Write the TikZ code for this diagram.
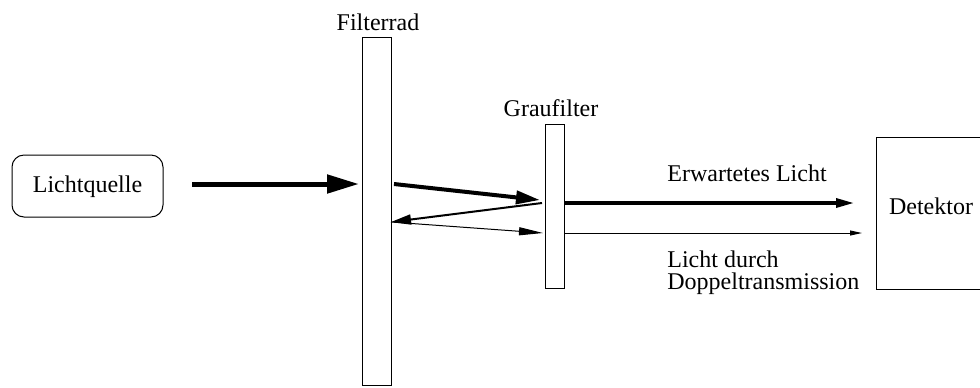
\documentclass[tikz,border=0pt]{standalone}
\usepackage{fontspec}
\setmainfont{Liberation Serif}
\usetikzlibrary{arrows.meta}
\begin{document}
\begin{tikzpicture}[x=0.5pt,y=-0.5pt,
  lbl/.style={inner sep=0pt,font=\fontsize{12}{14}\selectfont},
  box/.style={draw,line width=0.5pt,inner sep=0pt},
  thickarr/.style={line width=2.5pt,-{Triangle[length=16pt,width=9pt]}},
  medarr/.style={line width=2pt,-{Triangle[length=12pt,width=6.5pt]}},
  retarr/.style={line width=1pt,-{Triangle[length=10pt,width=5pt]}},
  thinarr/.style={line width=0.5pt,-{Triangle[length=12pt,width=4pt]}},
  hthick/.style={line width=1.6pt,-{Triangle[length=9pt,width=4.5pt]}},
  hthin/.style={line width=0.5pt,-{Triangle[length=6pt,width=2.5pt]}}]
\clip (0,0) rectangle (980,387);
\useasboundingbox (0,0) rectangle (980,387);
% boxes
\node[box,rounded corners=6pt,minimum width=75.5pt,minimum height=31pt] (quelle) at (87.5,186) {};
\node[lbl] (quelletxt) at (87.5,187) {Lichtquelle};
\node[box,minimum width=14.5pt,minimum height=174pt] (rad) at (376.5,211) {};
\node[lbl,anchor=south] (radtxt) at (378,31) {Filterrad};
\node[box,minimum width=9.5pt,minimum height=82pt] (grau) at (554.5,206) {};
\node[lbl,anchor=south] (grautxt) at (551,117) {Graufilter};
\node[box,minimum width=60pt,minimum height=76pt] (det) at (936,213) {};
\node[lbl] (dettxt) at (931,206) {Detektor};
% labels
\node[lbl,anchor=west] (erw) at (667,173) {Erwartetes Licht};
\node[lbl,anchor=west] (ld1) at (667,259) {Licht durch};
\node[lbl,anchor=west] (ld2) at (667,284) {Doppeltransmission};
% coordinates
\coordinate (a1) at (192,184);
\coordinate (a2) at (359,184);
\coordinate (b1) at (394,184);
\coordinate (b2) at (540,200);
\coordinate (c1) at (542,203);
\coordinate (c2) at (391,222);
\coordinate (d2) at (543,233);
\coordinate (e1) at (564,203);
\coordinate (e2) at (854,203);
\coordinate (f1) at (564,233);
\coordinate (f2) at (862,233);
% arrows
\draw[thickarr] (a1) -- (a2);
\draw[medarr] (b1) -- (b2);
\draw[retarr] (c1) -- (c2);
\draw[thinarr] (c2) -- (d2);
\draw[hthick] (e1) -- (e2);
\draw[hthin] (f1) -- (f2);
\end{tikzpicture}
\end{document}
